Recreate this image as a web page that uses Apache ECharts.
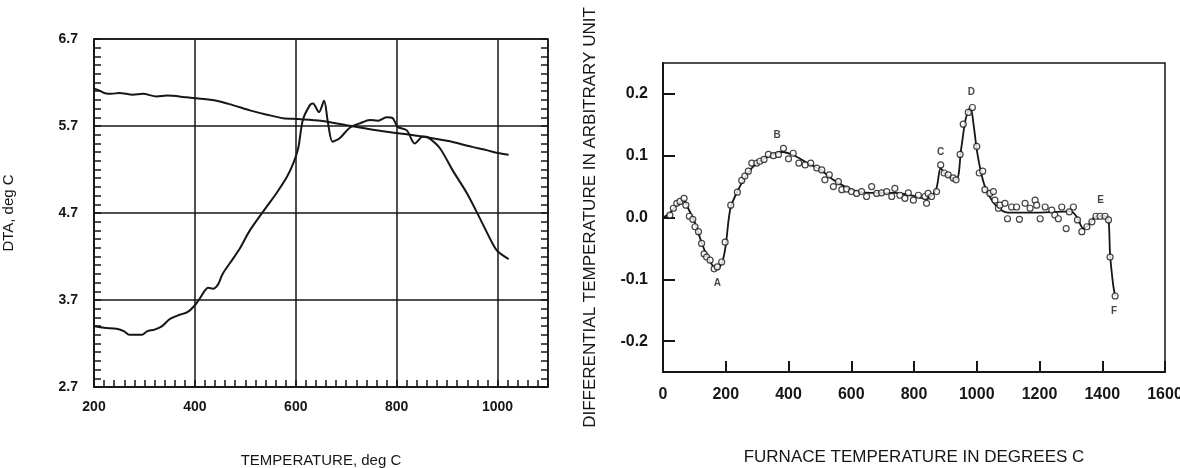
<!DOCTYPE html>
<html>
<head>
<meta charset="utf-8">
<script src="https://cdn.jsdelivr.net/npm/echarts@6/dist/echarts.min.js"></script>
<style>
html,body{margin:0;padding:0;background:#fff;}
#c{width:1180px;height:468px;}
</style>
</head>
<body>
<div id="c"></div>
<script>
// ---- Left chart (DTA) ----
var dtaXTicks = [200, 400, 600, 800, 1000];
var dtaYTicks = [2.7, 3.7, 4.7, 5.7, 6.7];
var dtaUpper = [[200,6.13],[210,6.11],[220,6.08],[235,6.07],[250,6.08],[277,6.06],[297,6.07],[324,6.04],[345,6.05],[384,6.03],[402,6.02],[443,5.99],[475,5.94],[509,5.88],[543,5.83],[575,5.79],[605,5.78],[650,5.76],[700,5.71],[750,5.66],[800,5.62],[850,5.58],[900,5.53],[950,5.46],[980,5.42],[1000,5.39],[1022,5.37]];
var dtaLower = [[200,3.40],[220,3.38],[245,3.37],[260,3.34],[270,3.30],[295,3.30],[305,3.34],[320,3.36],[335,3.40],[350,3.48],[370,3.53],[385,3.56],[400,3.64],[410,3.72],[420,3.81],[426,3.84],[436,3.83],[446,3.88],[455,4.0],[475,4.17],[490,4.3],[509,4.5],[542,4.77],[562,4.93],[582,5.11],[595,5.27],[605,5.45],[614,5.77],[628,5.94],[634,5.96],[646,5.86],[656,5.99],[664,5.73],[673,5.52],[687,5.56],[707,5.68],[727,5.73],[747,5.77],[762,5.76],[780,5.80],[792,5.79],[802,5.69],[820,5.65],[836,5.50],[852,5.58],[862,5.57],[885,5.45],[911,5.19],[939,4.93],[964,4.65],[990,4.35],[1000,4.26],[1022,4.17]];

// ---- Right chart (differential temperature) ----
var furnXTicks = [0, 200, 400, 600, 800, 1000, 1200, 1400, 1600];
var furnYTicks = [-0.2, -0.1, 0.0, 0.1, 0.2];
var furnPoints = [[22,0.004],[33,0.015],[44,0.023],[54,0.026],[67,0.031],[73,0.02],[84,0.002],[95,-0.003],[102,-0.015],[113,-0.023],[123,-0.042],[131,-0.059],[139,-0.064],[150,-0.069],[163,-0.083],[173,-0.08],[187,-0.072],[198,-0.04],[216,0.02],[237,0.041],[251,0.06],[261,0.067],[272,0.075],[283,0.088],[299,0.088],[309,0.091],[322,0.094],[336,0.102],[352,0.1],[368,0.102],[384,0.112],[400,0.095],[415,0.104],[433,0.088],[453,0.085],[471,0.088],[490,0.08],[506,0.077],[516,0.061],[530,0.069],[543,0.05],[559,0.058],[570,0.045],[585,0.046],[601,0.042],[617,0.039],[633,0.042],[649,0.034],[665,0.05],[681,0.039],[697,0.04],[713,0.042],[729,0.034],[739,0.047],[755,0.036],[771,0.031],[782,0.04],[798,0.028],[814,0.036],[835,0.034],[840,0.023],[845,0.039],[856,0.034],[872,0.042],[885,0.085],[896,0.072],[909,0.069],[925,0.064],[934,0.061],[947,0.102],[957,0.151],[973,0.17],[986,0.178],[1000,0.115],[1008,0.072],[1019,0.075],[1026,0.045],[1042,0.039],[1053,0.042],[1058,0.028],[1069,0.015],[1074,0.02],[1090,0.023],[1098,-0.002],[1111,0.017],[1127,0.017],[1136,-0.003],[1154,0.023],[1170,0.015],[1186,0.028],[1191,0.02],[1202,-0.002],[1218,0.017],[1239,0.012],[1249,0.004],[1260,-0.002],[1271,0.017],[1285,-0.018],[1295,0.009],[1308,0.017],[1321,-0.004],[1335,-0.023],[1351,-0.015],[1367,-0.007],[1380,0.002],[1393,0.002],[1409,0.002],[1420,-0.004],[1425,-0.064],[1441,-0.127]];
var furnFit = [[0,0.0],[20,0.006],[40,0.018],[65,0.028],[80,0.015],[100,-0.006],[120,-0.036],[140,-0.062],[160,-0.079],[175,-0.083],[190,-0.07],[200,-0.045],[215,0.015],[240,0.045],[270,0.072],[300,0.088],[340,0.1],[380,0.106],[420,0.1],[460,0.088],[500,0.078],[540,0.062],[580,0.05],[620,0.042],[680,0.04],[740,0.04],[800,0.035],[840,0.03],[870,0.045],[885,0.08],[900,0.07],[935,0.062],[950,0.11],[965,0.16],[980,0.178],[990,0.15],[1000,0.11],[1015,0.07],[1030,0.045],[1060,0.02],[1100,0.008],[1200,0.008],[1300,0.01],[1320,0.0],[1340,-0.018],[1360,-0.01],[1380,0.002],[1410,0.002],[1420,-0.005],[1425,-0.06],[1435,-0.11],[1441,-0.127]];
var furnMarks = [['A',173,-0.107],['B',364,0.133],['C',885,0.106],['D',983,0.202],['E',1395,0.028],['F',1438,-0.151]];

var INK = '#161616';
var FONT = 'Liberation Sans, Arial, sans-serif';

var chart = echarts.init(document.getElementById('c'), null, {renderer:'canvas'});
var option = {
  backgroundColor: '#fff',
  animation: false,
  grid: [
    {left: 94, top: 39, width: 454, height: 348, containLabel: false, outerBoundsMode: 'none',
     show: true, borderColor: INK, borderWidth: 1.5, backgroundColor: 'transparent'},
    {left: 663, top: 63, width: 502, height: 309, containLabel: false, outerBoundsMode: 'none',
     show: true, borderColor: INK, borderWidth: 1.5, backgroundColor: 'transparent'}
  ],
  xAxis: [
    {
      gridIndex: 0, type: 'value', min: dtaXTicks[0], max: 1100, interval: 200,
      name: 'TEMPERATURE, deg C', nameLocation: 'middle', nameGap: 66,
      nameTextStyle: {fontFamily: FONT, fontSize: 15, color: INK},
      axisLine: {show: true, onZero: false, lineStyle: {color: INK, width: 1.5}},
      axisTick: {show: true, inside: true, length: 7, lineStyle: {color: INK, width: 1.5}},
      minorTick: {show: true, splitNumber: 10, length: 7, lineStyle: {color: INK, width: 1.5}},
      axisLabel: {fontFamily: FONT, fontSize: 14, fontWeight: 'bold', color: INK, margin: 13,
        showMaxLabel: false,
        formatter: function(v){ return dtaXTicks.indexOf(v) >= 0 ? String(v) : ''; }},
      splitLine: {show: true, lineStyle: {color: INK, width: 1.5}}
    },
    {
      gridIndex: 1, type: 'value', min: furnXTicks[0], max: furnXTicks[furnXTicks.length-1], interval: 200,
      name: 'FURNACE TEMPERATURE IN DEGREES C', nameLocation: 'middle', nameGap: 77,
      nameTextStyle: {fontFamily: FONT, fontSize: 17, color: INK},
      axisLine: {show: true, onZero: false, lineStyle: {color: INK, width: 2}},
      axisTick: {show: true, inside: true, length: 11, lineStyle: {color: INK, width: 2}},
      axisLabel: {fontFamily: FONT, fontSize: 16, fontWeight: 'bold', color: INK, margin: 15,
        showMinLabel: true, showMaxLabel: true,
        formatter: function(v){ return String(v); }},
      splitLine: {show: false}
    }
  ],
  yAxis: [
    {
      gridIndex: 0, type: 'value', min: dtaYTicks[0], max: dtaYTicks[dtaYTicks.length-1], interval: 1,
      name: 'DTA, deg C', nameLocation: 'middle', nameGap: 78,
      nameTextStyle: {fontFamily: FONT, fontSize: 15, color: INK},
      axisLine: {show: true, onZero: false, lineStyle: {color: INK, width: 1.5}},
      axisTick: {show: true, inside: true, length: 7, lineStyle: {color: INK, width: 1.5}},
      minorTick: {show: true, splitNumber: 10, length: 7, lineStyle: {color: INK, width: 1.5}},
      axisLabel: {fontFamily: FONT, fontSize: 14, fontWeight: 'bold', color: INK, margin: 16,
        formatter: function(v){ return v.toFixed(1); }},
      splitLine: {show: true, lineStyle: {color: INK, width: 1.5}}
    },
    {
      gridIndex: 0, type: 'value', position: 'right', min: dtaYTicks[0], max: dtaYTicks[dtaYTicks.length-1], interval: 1,
      axisLine: {show: false},
      axisTick: {show: true, inside: true, length: 7, lineStyle: {color: INK, width: 1.5}},
      minorTick: {show: true, splitNumber: 10, length: 7, lineStyle: {color: INK, width: 1.5}},
      axisLabel: {show: false},
      splitLine: {show: false}
    },
    {
      gridIndex: 1, type: 'value', min: -0.25, max: 0.25,
      name: 'DIFFERENTIAL TEMPERATURE IN ARBITRARY UNIT', nameLocation: 'middle', nameGap: 64,
      nameTextStyle: {fontFamily: FONT, fontSize: 17, color: INK},
      axisLine: {show: true, onZero: false, lineStyle: {color: INK, width: 2}},
      axisTick: {show: true, inside: true, length: 12, customValues: furnYTicks, lineStyle: {color: INK, width: 2}},
      axisLabel: {fontFamily: FONT, fontSize: 16, fontWeight: 'bold', color: INK, margin: 15,
        customValues: furnYTicks,
        formatter: function(v){ return v.toFixed(1); }},
      splitLine: {show: false}
    }
  ],
  series: [
    {type: 'line', xAxisIndex: 0, yAxisIndex: 0, data: dtaUpper, smooth: 0.3, symbol: 'none',
     lineStyle: {color: INK, width: 2}},
    {type: 'line', xAxisIndex: 0, yAxisIndex: 0, data: dtaLower, smooth: 0.3, symbol: 'none',
     lineStyle: {color: INK, width: 2}},
    {type: 'line', xAxisIndex: 1, yAxisIndex: 2, data: furnFit, smooth: 0.3, symbol: 'none',
     lineStyle: {color: INK, width: 1.8}, z: 2},
    {type: 'scatter', xAxisIndex: 1, yAxisIndex: 2, data: furnPoints, symbol: 'circle', symbolSize: 6,
     itemStyle: {color: '#fff', borderColor: INK, borderWidth: 1.2}, z: 3},
    {type: 'scatter', xAxisIndex: 1, yAxisIndex: 2, symbolSize: 0, z: 4,
     data: furnMarks.map(function(m){ return {name: m[0], value: [m[1], m[2]]}; }),
     label: {show: true, position: 'inside', formatter: '{b}', fontFamily: FONT, fontSize: 10, fontWeight: 'bold', color: INK}}
  ]
};
chart.setOption(option);
</script>
</body>
</html>
